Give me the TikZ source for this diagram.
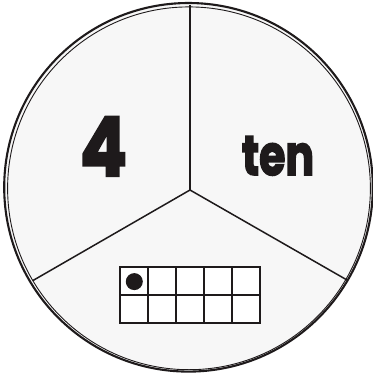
\documentclass[tikz,border=0pt]{standalone}
\usepackage{fontspec}
\newfontfamily\popfont{Poppins}[BoldFeatures={FakeBold=3}]
\definecolor{sectorgray}{HTML}{F7F7F7}
\definecolor{ink}{HTML}{1E1A1B}
\begin{document}
\begin{tikzpicture}[x=1pt,y=-1pt,
  divider/.style={draw=ink,line width=1.5pt},
  cellbox/.style={draw=ink,line width=1.3pt,fill=white},
  bigtext/.style={text=ink,inner sep=0pt}]
\useasboundingbox (0,0) rectangle (373,373);
\fill[white] (0,0) rectangle (373,373);
\fill[sectorgray] (188.7,187.5) circle (183.5);
\draw[ink,line width=2.1pt] (188.5,187.3) circle (184.3);
\draw[ink,line width=0.9pt] (189,188.3) circle (181.4);
\coordinate (hub) at (190,190);
\coordinate (top) at (190,5);
\coordinate (left) at (33,280.5);
\coordinate (right) at (347,280);
\draw[divider] (hub) -- (top);
\draw[divider] (hub) -- (left);
\draw[divider] (hub) -- (right);
% ten frame
\fill[white] (120,267) rectangle (260,323);
\foreach \i in {0,...,4}{
  \draw[cellbox] (120+28*\i,267) rectangle ++(28,28);
  \draw[cellbox] (120+28*\i,295) rectangle ++(28,28);
}
\node[circle,fill=ink,minimum size=17pt,inner sep=0pt] (dot) at (134.3,281.6) {};
\node[bigtext,font=\popfont\bfseries\fontsize{82}{82}\selectfont,anchor=base,xscale=0.85] (four) at (103.5,176) {4};
\node[bigtext,font=\popfont\bfseries\fontsize{56}{56}\selectfont,anchor=base,xscale=0.76] (ten) at (278,175) {ten};
\end{tikzpicture}
\end{document}
